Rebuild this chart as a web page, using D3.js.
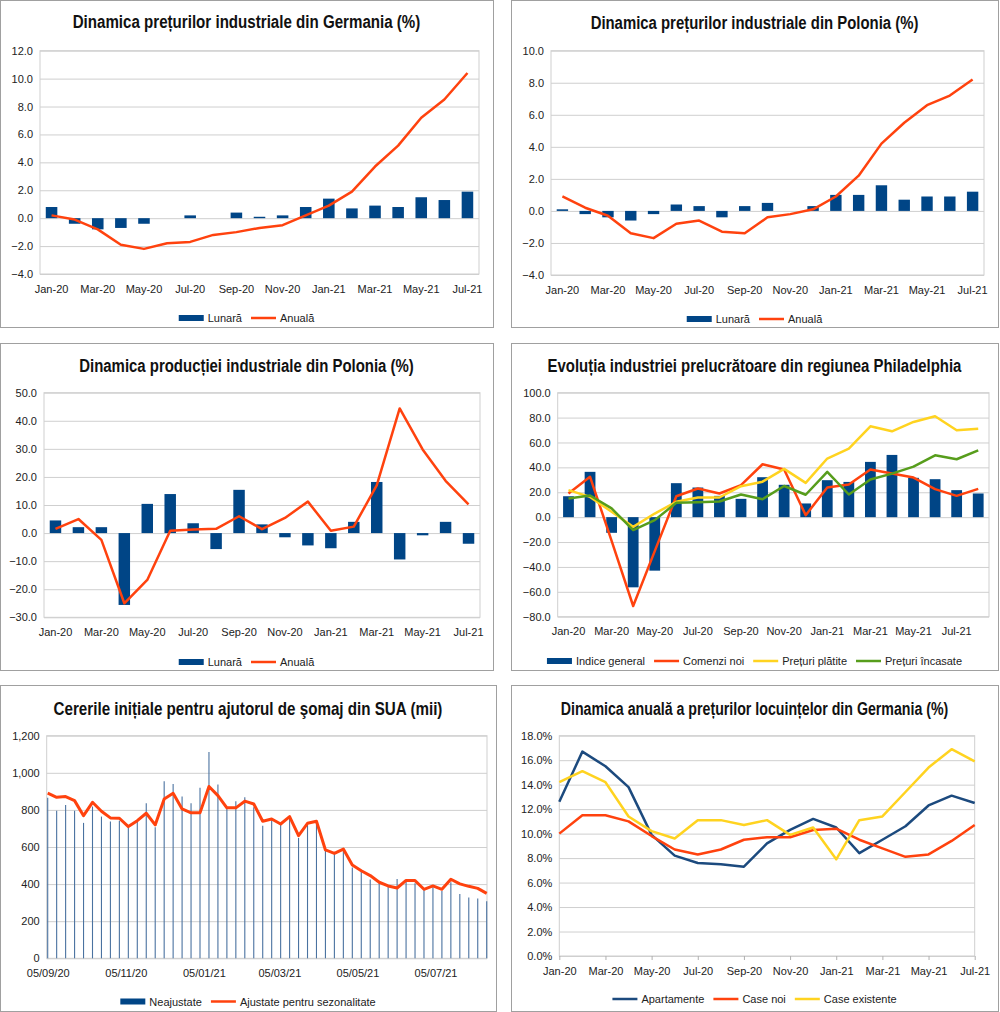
<!DOCTYPE html>
<html>
<head>
<meta charset="utf-8">
<script src="https://cdn.jsdelivr.net/npm/d3@7"></script>
<style>
  body { margin: 0; background: #fff; }
  svg { display: block; font-family: "Liberation Sans", Arial, sans-serif; }
</style>
</head>
<body>
<svg id="chart" width="1000" height="1012"></svg>
<script>
// ---- data ----
const months = ["Jan-20","Feb-20","Mar-20","Apr-20","May-20","Jun-20","Jul-20","Aug-20","Sep-20","Oct-20",
  "Nov-20","Dec-20","Jan-21","Feb-21","Mar-21","Apr-21","May-21","Jun-21","Jul-21"];
const monthsPhil = months.concat(["Aug-21"]);

// preturi industriale Germania
const deLunara = [0.8,-0.4,-0.8,-0.7,-0.4,0.0,0.2,0.0,0.4,0.1,0.2,0.8,1.4,0.7,0.9,0.8,1.5,1.3,1.9];
const deAnuala = [0.2,-0.1,-0.8,-1.9,-2.2,-1.8,-1.7,-1.2,-1.0,-0.7,-0.5,0.2,0.9,1.9,3.7,5.2,7.2,8.5,10.4];

// preturi industriale Polonia
const plLunara = [0.1,-0.2,-0.4,-0.6,-0.2,0.4,0.3,-0.4,0.3,0.5,0.0,0.3,1.0,1.0,1.6,0.7,0.9,0.9,1.2];
const plAnuala = [0.9,0.2,-0.3,-1.4,-1.7,-0.8,-0.6,-1.3,-1.4,-0.4,-0.2,0.1,0.9,2.2,4.2,5.5,6.6,7.2,8.2];

// productie industriala Polonia
const prodLunara = [4.5,2.1,2.1,-25.6,10.4,13.9,3.5,-5.7,15.4,3.1,-1.5,-4.4,-5.4,4.0,18.2,-9.4,-0.8,4.0,-3.8];
const prodAnuala = [1.5,5.0,-2.4,-25.0,-16.7,0.8,1.3,1.5,6.0,1.4,5.4,11.2,0.8,2.3,17.0,44.4,29.8,18.6,10.2];

// Philadelphia
const phIndice   = [16.8,36.4,-12.6,-56.4,-43.0,27.3,23.8,17.1,14.7,32.1,26.0,11.0,29.7,28.3,44.4,50.0,31.6,30.5,21.7,19.0];
const phComenzi  = [19.0,32.4,-19.0,-71.4,-27.3,16.8,23.0,19.0,25.7,42.5,38.3,1.6,23.8,26.2,38.3,35.0,31.8,22.5,17.1,22.7];
const phPlatite  = [21.7,16.3,4.3,-7.8,2.9,12.3,15.8,15.8,24.9,28.5,38.8,27.5,47.1,55.1,73.0,69.0,76.5,81.1,69.8,71.1];
const phIncasate = [15.0,17.4,7.0,-10.4,-2.4,11.5,12.0,12.6,18.2,14.4,25.0,18.0,36.4,18.2,30.2,35.0,40.6,49.7,46.5,53.7];

// cereri initiale somaj SUA (mii), saptamanal din 05/09/20
const claimsStart = "2020-09-05";
const claimsNSA = [865,796,827,796,730,818,764,737,742,715,742,836,706,955,940,872,836,919,1112,937,
  814,847,868,814,715,746,721,764,649,721,742,589,562,595,490,468,425,406,386,428,412,404,371,384,363,410,346,328,322,308];
const claimsSA = [890,868,872,850,769,841,793,757,755,710,742,782,719,859,890,805,784,784,926,877,
  811,811,847,832,739,751,724,764,661,728,739,584,566,589,503,472,446,410,390,379,420,419,372,390,372,426,401,388,377,350];
const claimsTicks = ["2020-09-05","2020-11-05","2021-01-05","2021-03-05","2021-05-05","2021-07-05"];

// preturi locuinte Germania (%)
const apartamente   = [12.6,16.7,15.5,13.8,9.9,8.2,7.6,7.5,7.3,9.2,10.3,11.2,10.5,8.4,9.5,10.6,12.3,13.1,12.5];
const caseNoi       = [10.0,11.5,11.5,11.0,9.8,8.7,8.3,8.7,9.5,9.7,9.7,10.3,10.4,9.5,8.8,8.1,8.3,9.4,10.7];
const caseExistente = [14.2,15.1,14.2,11.4,10.2,9.6,11.1,11.1,10.7,11.1,9.9,10.5,7.9,11.1,11.4,13.4,15.4,16.9,15.9];

// ---- styles ----
const BLUE = "#004586", ORANGE = "#ff420e", YELLOW = "#ffd320", GREEN = "#579d1c";
const GRID = "#cfcfcf";
const svg = d3.select("#chart");

function frame(box, title, titleY, titleW) {
  svg.append("rect")
    .attr("x", box[0] + 0.5).attr("y", box[1] + 0.5)
    .attr("width", box[2] - box[0]).attr("height", box[3] - box[1])
    .attr("fill", "#fff").attr("stroke", "#a0a0a0");
  // condensed bold title: full size glyphs squeezed horizontally
  const g = svg.append("g");
  const t = g.append("text")
    .attr("text-anchor", "middle")
    .attr("font-family", '"Liberation Sans Narrow","Liberation Sans",sans-serif')
    .attr("font-weight", "bold").attr("font-size", 19).attr("fill", "#111")
    .text(title);
  const w = t.node().getComputedTextLength();
  g.attr("transform", `translate(${(box[0] + box[2]) / 2},${titleY}) scale(${titleW / w},1)`);
}

function yAxis(y, x0, x1, ticks, fmt) {
  svg.append("g")
    .attr("transform", `translate(${x0},0)`)
    .call(d3.axisLeft(y).tickValues(ticks).tickFormat(fmt).tickSize(-(x1 - x0)).tickPadding(7))
    .call(g => g.select(".domain").remove())
    .call(g => g.selectAll("line").attr("stroke", GRID))
    .attr("font-size", 11).attr("font-family", null)
    .call(g => g.selectAll("text").attr("fill", "#222"));
  const [yb, yt] = y.range();
  svg.append("rect").attr("x", x0).attr("y", yt).attr("width", x1 - x0).attr("height", yb - yt)
    .attr("fill", "none").attr("stroke", GRID);
}

function xAxis(x, yb, ticks, fmt, size) {
  svg.append("g")
    .attr("transform", `translate(0,${yb})`)
    .call(d3.axisBottom(x).tickValues(ticks).tickFormat(fmt).tickSize(size).tickPadding(11 - size))
    .call(g => g.select(".domain").remove())
    .call(g => g.selectAll("line").attr("stroke", "#b0b0b0"))
    .attr("font-size", 11).attr("font-family", null)
    .call(g => g.selectAll("text").attr("fill", "#222"));
}

function bars(x, y, cats, vals, color) {
  svg.append("g").selectAll("rect").data(vals).join("rect")
    .attr("x", (d, i) => x(cats[i]))
    .attr("width", x.bandwidth())
    .attr("y", d => Math.min(y(d), y(0)))
    .attr("height", d => Math.abs(y(d) - y(0)))
    .attr("fill", color);
}

function series(xf, y, vals, color, w) {
  svg.append("path").datum(vals)
    .attr("d", d3.line().x((d, i) => xf(i)).y(d => y(d)))
    .attr("fill", "none").attr("stroke", color).attr("stroke-width", w || 2.5)
    .attr("stroke-linejoin", "round");
}

function legend(cx, y, items) {
  const g = svg.append("g");
  let x = 0;
  items.forEach(it => {
    if (it.bar) {
      g.append("rect").attr("x", x).attr("y", y - 3).attr("width", 25).attr("height", 6).attr("fill", it.color);
    } else {
      g.append("line").attr("x1", x).attr("x2", x + 25).attr("y1", y).attr("y2", y)
        .attr("stroke", it.color).attr("stroke-width", 2.5);
    }
    const t = g.append("text").attr("x", x + 29).attr("y", y).attr("dominant-baseline", "central")
      .attr("font-size", 11).attr("fill", "#222").text(it.label);
    x += 29 + t.node().getComputedTextLength() + 9;
  });
  g.attr("transform", `translate(${cx - (x - 9) / 2},0)`);
}

const every2 = arr => arr.filter((d, i) => i % 2 === 0);
const f1 = d3.format(".1f");

// ---- bar + line panel ----
function barLinePanel(box, title, titleY, titleW, px, py, dom, step, lunara, anuala, legY) {
  frame(box, title, titleY, titleW);
  const x = d3.scaleBand().domain(months).range(px).paddingInner(0.5).paddingOuter(0.25);
  const y = d3.scaleLinear().domain(dom).range(py);
  yAxis(y, px[0], px[1], d3.range(dom[0], dom[1] + step / 2, step), f1);
  xAxis(x, py[0], every2(months), d => d, 0);
  bars(x, y, months, lunara, BLUE);
  series(i => x(months[i]) + x.bandwidth() / 2, y, anuala, ORANGE);
  legend((box[0] + box[2]) / 2, legY, [
    { bar: true, color: BLUE, label: "Lunară" },
    { color: ORANGE, label: "Anuală" }
  ]);
}

barLinePanel([0, 0, 493, 327], "Dinamica prețurilor industriale din Germania (%)", 28, 348,
  [40, 479], [274, 50.7], [-4, 12], 2, deLunara, deAnuala, 318);

barLinePanel([511, 0, 998, 327], "Dinamica prețurilor industriale din Polonia (%)", 29, 328,
  [551, 984], [275, 50.7], [-4, 10], 2, plLunara, plAnuala, 319);

barLinePanel([0, 343, 493, 670], "Dinamica producției industriale din Polonia (%)", 372, 335,
  [44, 480], [617.3, 392.7], [-30, 50], 10, prodLunara, prodAnuala, 662);

// ---- Philadelphia ----
{
  const box = [511, 343, 998, 670];
  frame(box, "Evoluția industriei prelucrătoare din regiunea Philadelphia", 372, 414);
  const x = d3.scaleBand().domain(monthsPhil).range([557.7, 989]).paddingInner(0.5).paddingOuter(0.25);
  const y = d3.scaleLinear().domain([-80, 100]).range([616.7, 392.7]);
  yAxis(y, 557.7, 989, d3.range(-80, 101, 20), f1);
  xAxis(x, 616.7, every2(monthsPhil).slice(0, 10), d => d, 0);
  bars(x, y, monthsPhil, phIndice, BLUE);
  const xc = i => x(monthsPhil[i]) + x.bandwidth() / 2;
  series(xc, y, phComenzi, ORANGE);
  series(xc, y, phPlatite, YELLOW);
  series(xc, y, phIncasate, GREEN);
  legend((box[0] + box[2]) / 2, 661, [
    { bar: true, color: BLUE, label: "Indice general" },
    { color: ORANGE, label: "Comenzi noi" },
    { color: YELLOW, label: "Prețuri plătite" },
    { color: GREEN, label: "Prețuri încasate" }
  ]);
}

// ---- cereri somaj SUA ----
{
  const box = [0, 685, 496, 1011];
  frame(box, "Cererile inițiale pentru ajutorul de şomaj din SUA (mii)", 714.5, 389);
  const start = new Date(claimsStart);
  const weeks = claimsSA.map((d, i) => d3.utcDay.offset(start, 7 * i));
  const x = d3.scaleUtc().domain([weeks[0], weeks[weeks.length - 1]]).range([47.7, 486.7]);
  const y = d3.scaleLinear().domain([0, 1200]).range([958.3, 735.7]);
  yAxis(y, 46.7, 487, d3.range(0, 1201, 200), d3.format(","));
  xAxis(x, 958.3, claimsTicks.map(d => new Date(d)), d3.utcFormat("%d/%m/%y"), 0);
  svg.append("g").selectAll("line").data(claimsNSA).join("line")
    .attr("x1", (d, i) => x(weeks[i])).attr("x2", (d, i) => x(weeks[i]))
    .attr("y1", y(0)).attr("y2", d => y(d))
    .attr("stroke", "#4a72a0").attr("stroke-width", 1.1);
  series(i => x(weeks[i]), y, claimsSA, ORANGE, 3);
  legend((box[0] + box[2]) / 2, 1001.5, [
    { bar: true, color: BLUE, label: "Neajustate" },
    { color: ORANGE, label: "Ajustate pentru sezonalitate" }
  ]);
}

// ---- preturi locuinte Germania ----
{
  const box = [511, 685, 998, 1011];
  frame(box, "Dinamica anuală a prețurilor locuințelor din Germania (%)", 714.5, 388);
  const x = d3.scalePoint().domain(months).range([559.3, 974.7]);
  const y = d3.scaleLinear().domain([0, 18]).range([956, 735.7]);
  yAxis(y, 559.3, 974.7, d3.range(0, 18.1, 2), d => f1(d) + "%");
  xAxis(x, 956, every2(months), d => d, 4);
  const xc = i => x(months[i]);
  series(xc, y, apartamente, "#1c4a7e");
  series(xc, y, caseNoi, ORANGE);
  series(xc, y, caseExistente, YELLOW);
  legend((box[0] + box[2]) / 2, 999, [
    { color: "#1c4a7e", label: "Apartamente" },
    { color: ORANGE, label: "Case noi" },
    { color: YELLOW, label: "Case existente" }
  ]);
}
</script>
</body>
</html>
